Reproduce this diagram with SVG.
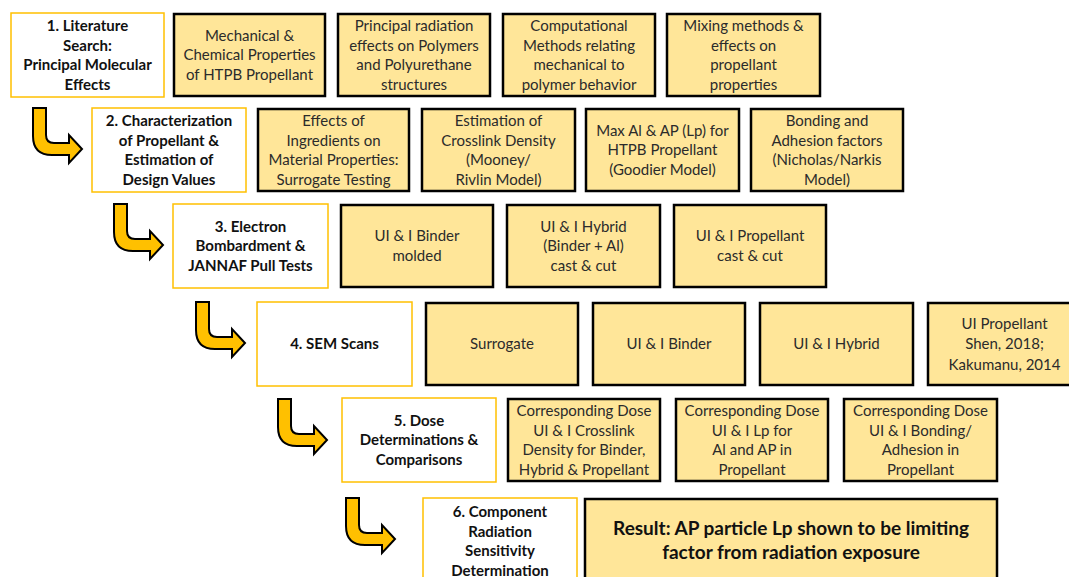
<svg xmlns="http://www.w3.org/2000/svg" width="1069" height="577" viewBox="0 0 1069 577">
<style>
.step rect{fill:#fff;stroke:#FFC000;stroke-width:1.5}
.item rect{fill:#FFE699;stroke:#000;stroke-width:2.5}
text{font-family:Lato,"Liberation Sans",sans-serif;text-anchor:middle}
.step text{font-size:15px;font-weight:bold;fill:#111}
.item text{font-size:15px;fill:#2b2b2b}
.item text.res{font-size:19px;font-weight:bold;fill:#111}
.arrow{fill:#FFC000;stroke:#000;stroke-width:2;stroke-linejoin:miter}
</style>
<defs>
<path id="bent" class="arrow" d="M0,0 H13 V27 Q13,35 21,35 H36 V27 L49,41 L36,55 V47 H19 Q0,47 0,28 Z"/>
</defs>
<rect width="1069" height="577" fill="#fff"/>

<g id="connectors">
<use href="#bent" x="33" y="108"/>
<use href="#bent" x="114" y="204"/>
<use href="#bent" x="196" y="302"/>
<use href="#bent" x="278" y="399"/>
<use href="#bent" x="346" y="498"/>
</g>

<!-- Row 1 -->
<g id="n1" class="step"><rect x="11" y="13" width="153" height="84"/>
<text><tspan x="87.5" y="31">1. Literature</tspan><tspan x="87.5" y="50.5">Search:</tspan><tspan x="87.5" y="70">Principal Molecular</tspan><tspan x="87.5" y="89.5">Effects</tspan></text></g>
<g id="n1a" class="item"><rect x="174" y="14" width="151" height="82"/>
<text><tspan x="249.5" y="40.5">Mechanical &amp;</tspan><tspan x="249.5" y="60">Chemical Properties</tspan><tspan x="249.5" y="79.5">of HTPB Propellant</tspan></text></g>
<g id="n1b" class="item"><rect x="338" y="14" width="152" height="82"/>
<text><tspan x="414" y="31">Principal radiation</tspan><tspan x="414" y="50.5">effects on Polymers</tspan><tspan x="414" y="70">and Polyurethane</tspan><tspan x="414" y="89.5">structures</tspan></text></g>
<g id="n1c" class="item"><rect x="503" y="14" width="152" height="82"/>
<text><tspan x="579" y="31">Computational</tspan><tspan x="579" y="50.5">Methods relating</tspan><tspan x="579" y="70">mechanical to</tspan><tspan x="579" y="89.5">polymer behavior</tspan></text></g>
<g id="n1d" class="item"><rect x="667" y="14" width="153" height="82"/>
<text><tspan x="743.5" y="31">Mixing methods &amp;</tspan><tspan x="743.5" y="50.5">effects on</tspan><tspan x="743.5" y="70">propellant</tspan><tspan x="743.5" y="89.5">properties</tspan></text></g>

<!-- Row 2 -->
<g id="n2" class="step"><rect x="92" y="108" width="154" height="84"/>
<text><tspan x="169" y="126">2. Characterization</tspan><tspan x="169" y="145.5">of Propellant &amp;</tspan><tspan x="169" y="165">Estimation of</tspan><tspan x="169" y="184.5">Design Values</tspan></text></g>
<g id="n2a" class="item"><rect x="258" y="109" width="151" height="82"/>
<text><tspan x="333.5" y="126">Effects of</tspan><tspan x="333.5" y="145.5">Ingredients on</tspan><tspan x="333.5" y="165">Material Properties:</tspan><tspan x="333.5" y="184.5">Surrogate Testing</tspan></text></g>
<g id="n2b" class="item"><rect x="422" y="109" width="153" height="82"/>
<text><tspan x="498.5" y="126">Estimation of</tspan><tspan x="498.5" y="145.5">Crosslink Density</tspan><tspan x="498.5" y="165">(Mooney/</tspan><tspan x="498.5" y="184.5">Rivlin Model)</tspan></text></g>
<g id="n2c" class="item"><rect x="586" y="109" width="153" height="82"/>
<text><tspan x="662.5" y="135.5">Max Al &amp; AP (Lp) for</tspan><tspan x="662.5" y="155">HTPB Propellant</tspan><tspan x="662.5" y="174.5">(Goodier Model)</tspan></text></g>
<g id="n2d" class="item"><rect x="751" y="109" width="152" height="82"/>
<text><tspan x="827" y="126">Bonding and</tspan><tspan x="827" y="145.5">Adhesion factors</tspan><tspan x="827" y="165">(Nicholas/Narkis</tspan><tspan x="827" y="184.5">Model)</tspan></text></g>

<!-- Row 3 -->
<g id="n3" class="step"><rect x="173" y="204" width="155" height="84"/>
<text><tspan x="250.5" y="231.5">3. Electron</tspan><tspan x="250.5" y="251">Bombardment &amp;</tspan><tspan x="250.5" y="270.5">JANNAF Pull Tests</tspan></text></g>
<g id="n3a" class="item"><rect x="341" y="205" width="152" height="82"/>
<text><tspan x="417" y="241">UI &amp; I Binder</tspan><tspan x="417" y="260.5">molded</tspan></text></g>
<g id="n3b" class="item"><rect x="507" y="205" width="153" height="82"/>
<text><tspan x="583.5" y="231.5">UI &amp; I Hybrid</tspan><tspan x="583.5" y="251">(Binder + Al)</tspan><tspan x="583.5" y="270.5">cast &amp; cut</tspan></text></g>
<g id="n3c" class="item"><rect x="674" y="205" width="152" height="82"/>
<text><tspan x="750" y="241">UI &amp; I Propellant</tspan><tspan x="750" y="260.5">cast &amp; cut</tspan></text></g>

<!-- Row 4 -->
<g id="n4" class="step"><rect x="257" y="302" width="155" height="84"/>
<text><tspan x="334.5" y="349">4. SEM Scans</tspan></text></g>
<g id="n4a" class="item"><rect x="426" y="303" width="152" height="82"/>
<text><tspan x="502" y="349">Surrogate</tspan></text></g>
<g id="n4b" class="item"><rect x="593" y="303" width="152" height="82"/>
<text><tspan x="669" y="349">UI &amp; I Binder</tspan></text></g>
<g id="n4c" class="item"><rect x="760" y="303" width="153" height="82"/>
<text><tspan x="836.5" y="349">UI &amp; I Hybrid</tspan></text></g>
<g id="n4d" class="item"><rect x="928" y="303" width="153" height="82"/>
<text><tspan x="1004.5" y="328.5">UI Propellant</tspan><tspan x="1004.5" y="349">Shen, 2018;</tspan><tspan x="1004.5" y="369.5">Kakumanu, 2014</tspan></text></g>

<!-- Row 5 -->
<g id="n5" class="step"><rect x="342" y="398" width="154" height="84"/>
<text><tspan x="419" y="425.5">5. Dose</tspan><tspan x="419" y="445">Determinations &amp;</tspan><tspan x="419" y="464.5">Comparisons</tspan></text></g>
<g id="n5a" class="item"><rect x="508" y="399" width="152" height="82"/>
<text><tspan x="584" y="416">Corresponding Dose</tspan><tspan x="584" y="435.5">UI &amp; I Crosslink</tspan><tspan x="584" y="455">Density for Binder,</tspan><tspan x="584" y="474.5">Hybrid &amp; Propellant</tspan></text></g>
<g id="n5b" class="item"><rect x="676" y="399" width="152" height="82"/>
<text><tspan x="752" y="416">Corresponding Dose</tspan><tspan x="752" y="435.5">UI &amp; I Lp for</tspan><tspan x="752" y="455">Al and AP in</tspan><tspan x="752" y="474.5">Propellant</tspan></text></g>
<g id="n5c" class="item"><rect x="844" y="399" width="153" height="82"/>
<text><tspan x="920.5" y="416">Corresponding Dose</tspan><tspan x="920.5" y="435.5">UI &amp; I Bonding/</tspan><tspan x="920.5" y="455">Adhesion in</tspan><tspan x="920.5" y="474.5">Propellant</tspan></text></g>

<!-- Row 6 -->
<g id="n6" class="step"><rect x="423" y="498" width="154" height="86"/>
<text><tspan x="500" y="517">6. Component</tspan><tspan x="500" y="536.5">Radiation</tspan><tspan x="500" y="556">Sensitivity</tspan><tspan x="500" y="575.5">Determination</tspan></text></g>
<g id="n6a" class="item"><rect x="585" y="499" width="412" height="86"/>
<text class="res"><tspan x="791" y="534.5">Result: AP particle Lp shown to be limiting</tspan><tspan x="791" y="559">factor from radiation exposure</tspan></text></g>
</svg>
